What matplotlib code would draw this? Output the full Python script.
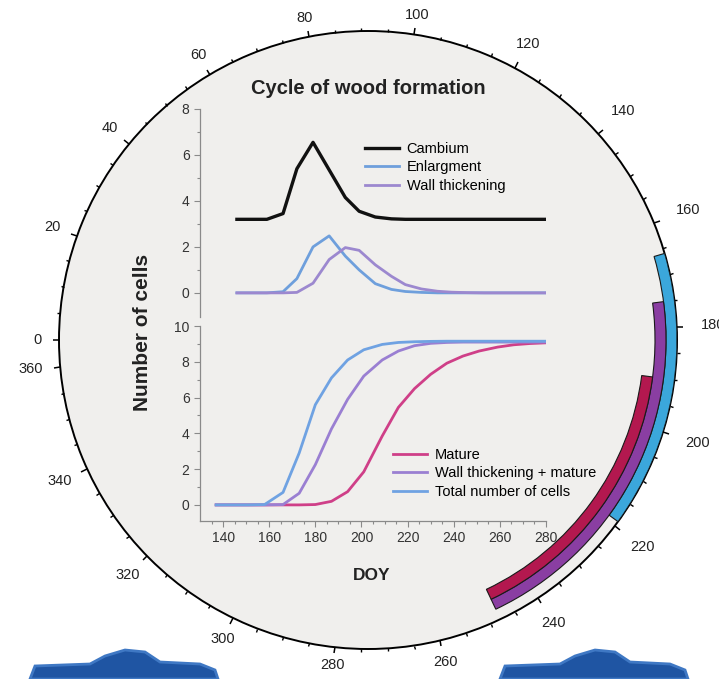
import numpy as np
import matplotlib

matplotlib.use("Agg")
import matplotlib.pyplot as plt  # noqa: E402
from matplotlib.patches import Polygon  # noqa: E402

plt.rcParams["font.family"] = ["Liberation Sans", "DejaVu Sans"]

# --- data --------------------------------------------------------------
# upper panel: cambium / enlargement / wall thickening cell counts
days_top = [146, 153, 159, 166, 172, 179, 186, 193, 199, 206, 213,
            219, 226, 233, 239, 246, 253, 260, 266, 273, 280]
cambium = [3.2, 3.2, 3.2, 3.45, 5.4, 6.55, 5.35, 4.15, 3.55, 3.3, 3.22,
           3.2, 3.2, 3.2, 3.2, 3.2, 3.2, 3.2, 3.2, 3.2, 3.2]
enlargment = [0, 0, 0, 0.05, 0.62, 2.0, 2.48, 1.6, 1.0, 0.4, 0.15,
              0.06, 0.02, 0, 0, 0, 0, 0, 0, 0, 0]
wall = [0, 0, 0, 0, 0.02, 0.42, 1.45, 1.97, 1.85, 1.22, 0.72,
        0.36, 0.17, 0.07, 0.03, 0.01, 0, 0, 0, 0, 0]

# lower panel: cumulative cell counts
days_bot = [137, 144, 151, 158, 166, 173, 180, 187, 194, 201, 209,
            216, 223, 230, 237, 244, 251, 259, 266, 273, 280]
mature = [0, 0, 0, 0, 0, 0, 0.02, 0.2, 0.74, 1.85, 3.85,
          5.45, 6.5, 7.3, 7.92, 8.32, 8.6, 8.82, 8.95, 9.02, 9.06]
wall_mature = [0, 0, 0, 0, 0.02, 0.65, 2.25, 4.25, 5.9, 7.2, 8.1,
               8.6, 8.9, 9.03, 9.08, 9.1, 9.1, 9.1, 9.1, 9.1, 9.1]
total = [0, 0, 0, 0.02, 0.7, 2.9, 5.6, 7.1, 8.1, 8.67, 8.97,
         9.08, 9.12, 9.14, 9.15, 9.15, 9.15, 9.15, 9.15, 9.15, 9.15]

# phase durations shown on the year clock (DOY start / end)
phase_names = ["Total", "Wall thickening + mature", "Mature"]
phase_start = [166, 175, 190]
phase_end = [219, 248, 248]
phase_colors = ["#3ba7db", "#8a3ea2", "#b3184f"]

year_len = 365.0
clock_labels = list(range(0, 361, 20))


def doy2rad(d):
    return np.asarray(d, dtype=float) * 2 * np.pi / year_len


fig = plt.figure(figsize=(7.19, 6.79), dpi=100)
fig.patch.set_facecolor("white")

# --- year clock ----------------------------------------------------------
W, H = 719.0, 679.0
cx, cy, R = 368.0, 340.0, 309.0
pol = fig.add_axes([(cx - R) / W, (H - cy - R) / H, 2 * R / W, 2 * R / H],
                   projection="polar")
pol.set_theta_zero_location("W")
pol.set_theta_direction(-1)
pol.set_facecolor("#f0efed")
pol.set_ylim(0, 1)
pol.set_yticks([])
pol.grid(False)
pol.spines["polar"].set_linewidth(1.4)
pol.set_xticks(doy2rad(clock_labels))
pol.set_xticklabels([])
pol.set_xticks(doy2rad([d for d in range(5, 361, 5) if d % 20]), minor=True)
pol.xaxis.set_ticks_position("top")
pol.tick_params(axis="x", which="major", direction="out", length=4.5, width=1.1)
pol.tick_params(axis="x", which="minor", direction="out", length=2.5, width=1.0)

# clock labels: text box kept clear of the rim
for v in clock_labels:
    phi = np.pi - doy2rad(v)
    c, s = np.cos(phi), np.sin(phi)
    w_txt, h_txt = 8.1 * len(str(v)), 10.5
    gap = 11 + 9.5 * abs(c) + 3.5 * c
    dist = R + gap + 0.5 * w_txt * abs(c) + 0.5 * h_txt * abs(s)
    fig.text((cx + dist * c) / W, (H - cy + dist * s) / H,
             str(v), fontsize=10.5, color="#222222", ha="center", va="center")

ring_w = 11.0 / R
for i, name in enumerate(phase_names):
    t0 = doy2rad(phase_start[i])
    t1 = doy2rad(phase_end[i])
    pol.bar(t0, ring_w, width=t1 - t0, bottom=1 - ring_w * (i + 1), align="edge",
            color=phase_colors[i], edgecolor="#1a1a1a", linewidth=0.8, zorder=3)

# --- wood formation panels ----------------------------------------------
grey = "#8a8a8a"
x_left, x_w = 200 / W, 346 / W


def style(ax, show_x):
    for s in ("top", "right"):
        ax.spines[s].set_visible(False)
    ax.spines["left"].set_color(grey)
    ax.spines["bottom"].set_color(grey)
    ax.spines["left"].set_linewidth(0.9)
    ax.spines["bottom"].set_linewidth(0.9)
    ax.patch.set_alpha(0)
    ax.tick_params(colors=grey, labelcolor="#333333", labelsize=10, length=4, width=0.8)
    ax.tick_params(which="minor", colors=grey, length=2.5, width=0.8)
    ax.set_xlim(130, 280)
    if not show_x:
        ax.spines["bottom"].set_visible(False)
        ax.set_xticks([])


top = fig.add_axes([x_left, (H - 317) / H, x_w, (317 - 109) / H])
style(top, False)
top.set_ylim(-1.05, 8)
top.set_yticks([0, 2, 4, 6, 8])
top.set_yticks([1, 3, 5, 7], minor=True)
top.plot(days_top, cambium, color="#111111", lw=2.4, label="Cambium")
top.plot(days_top, enlargment, color="#6e9fdc", lw=2.0, label="Enlargment")
top.plot(days_top, wall, color="#9c88cf", lw=2.0, label="Wall thickening")
top.legend(loc="upper left", bbox_to_anchor=(365 / W, 1 - 142 / H),
           bbox_transform=fig.transFigure, frameon=False, fontsize=10.5,
           handlelength=2.3, handletextpad=0.55, labelspacing=0.3,
           borderpad=0, borderaxespad=0)

bot = fig.add_axes([x_left, (H - 521) / H, x_w, (521 - 326) / H])
style(bot, True)
bot.set_ylim(-0.9, 10)
bot.set_yticks([0, 2, 4, 6, 8, 10])
bot.set_yticks([1, 3, 5, 7, 9], minor=True)
bot.set_xticks(range(140, 281, 20))
bot.set_xticks(range(135, 281, 5), minor=True)
bot.plot(days_bot, mature, color="#cf3f88", lw=2.0, label="Mature")
bot.plot(days_bot, wall_mature, color="#9a7fd2", lw=2.0, label="Wall thickening + mature")
bot.plot(days_bot, total, color="#6fa2e2", lw=2.0, label="Total number of cells")
bot.legend(loc="upper left", bbox_to_anchor=(393 / W, 1 - 448 / H),
           bbox_transform=fig.transFigure, frameon=False, fontsize=10.5,
           handlelength=2.3, handletextpad=0.55, labelspacing=0.3,
           borderpad=0, borderaxespad=0)

fig.text(368 / W, 1 - 88 / H, "Cycle of wood formation", fontsize=14.5,
         fontweight="bold", ha="center", va="center", color="#222222")
fig.text(143 / W, 1 - 332 / H, "Number of cells", fontsize=15,
         fontweight="bold", ha="center", va="center", rotation=90, color="#222222")
fig.text(372 / W, 1 - 576 / H, "DOY", fontsize=12.5,
         fontweight="bold", ha="center", va="center", color="#222222")

# cropped blue logo shapes along the bottom edge
for x0 in (30, 500):
    pts = [(x0, 679), (x0 + 5, 666), (x0 + 60, 664), (x0 + 75, 656),
           (x0 + 95, 650), (x0 + 115, 652), (x0 + 130, 662), (x0 + 170, 664),
           (x0 + 185, 670), (x0 + 188, 679)]
    fig.patches.append(Polygon([(x / W, 1 - y / H) for x, y in pts], closed=True,
                               transform=fig.transFigure, facecolor="#1f55a3",
                               edgecolor="#3f78c4", linewidth=2))

fig.savefig("out.png", dpi=100)
